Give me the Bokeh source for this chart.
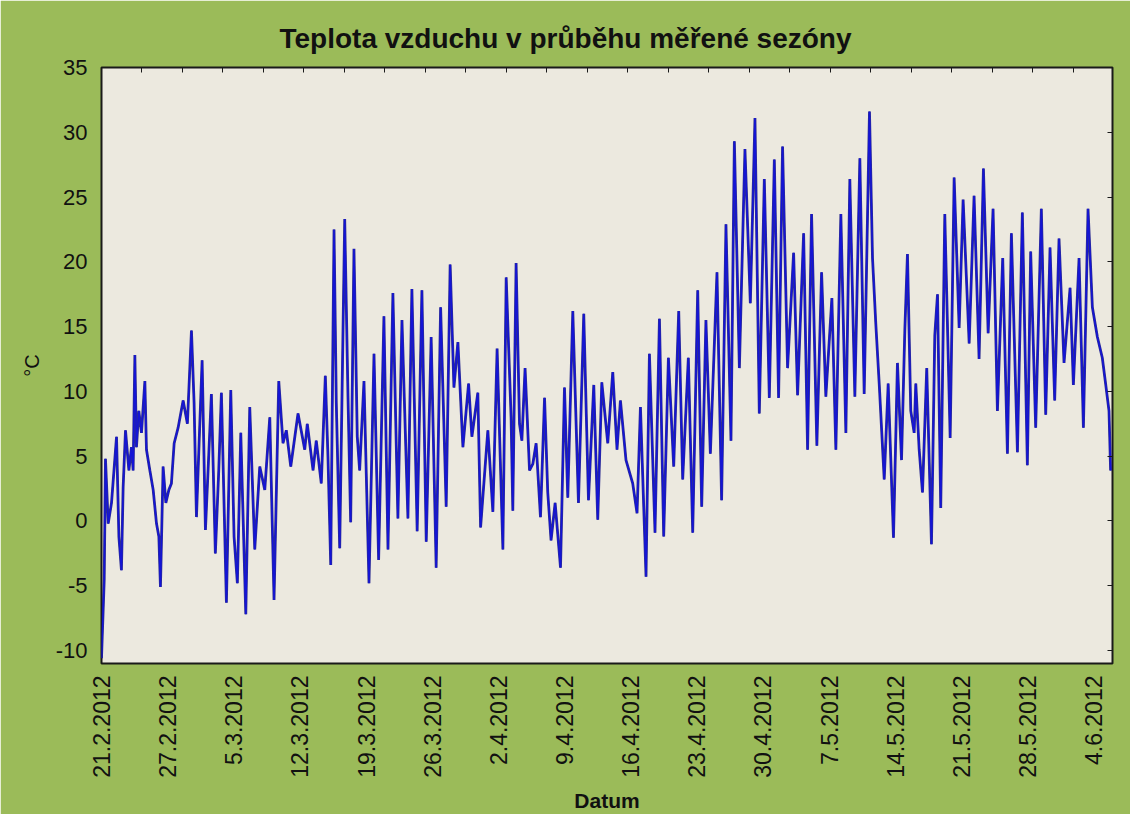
import math
from bokeh.plotting import figure
from bokeh.models import Range1d, FixedTicker, LinearAxis, ColumnDataSource
from bokeh.embed import file_html
from bokeh.resources import INLINE

# Data: day index since 21.2.2012 and air temperature (°C)
day = [0.0, 0.29, 0.42, 0.71, 1.06, 1.59, 1.84, 2.11, 2.29, 2.54, 2.90, 3.17, 3.35, 3.53, 3.70, 3.95,
       4.23, 4.59, 4.76, 5.12, 5.47, 5.82, 6.07, 6.24, 6.52, 6.81, 7.13, 7.40, 7.69, 8.11, 8.64, 9.09,
       9.52, 9.80, 10.05, 10.33, 10.65, 11.00, 11.28, 11.63, 12.05, 12.41, 12.69, 13.22, 13.68, 14.03,
       14.38, 14.74, 15.27, 15.69, 16.22, 16.75, 17.28, 17.81, 18.26, 18.76, 19.21, 19.56, 20.03, 20.80,
       21.51, 21.78, 22.39, 22.73, 23.26, 23.69, 23.97, 24.26, 24.61, 24.85, 25.21, 25.74, 26.09, 26.37,
       26.72, 27.07, 27.32, 27.78, 28.31, 28.84, 29.33, 29.89, 30.32, 30.84, 31.37, 31.80, 32.43, 32.85,
       33.41, 33.91, 34.37, 34.89, 35.42, 35.89, 36.48, 36.90, 37.30, 37.72, 38.25, 38.85, 39.20, 39.83,
       40.12, 40.89, 41.42, 41.87, 42.48, 42.83, 43.35, 43.53, 43.88, 44.24, 44.49, 44.83, 45.30, 45.65,
       46.00, 46.46, 46.89, 47.23, 47.58, 48.01, 48.58, 49.00, 49.35, 49.88, 50.48, 51.04, 51.54, 52.10,
       52.52, 52.95, 53.58, 54.11, 54.56, 54.92, 55.51, 56.22, 56.68, 57.04, 57.63, 57.99, 58.58, 59.05,
       59.50, 60.00, 60.56, 61.09, 61.51, 62.11, 62.57, 63.10, 63.52, 63.97, 64.44, 65.14, 65.63, 66.09,
       66.62, 66.98, 67.51, 68.10, 68.67, 69.16, 69.62, 70.15, 70.68, 71.21, 71.66, 72.08, 72.61, 73.25,
       73.67, 74.31, 74.73, 75.15, 75.71, 76.21, 76.66, 77.30, 77.72, 78.25, 78.78, 79.20, 79.73, 80.26,
       80.72, 81.28, 81.60, 81.95, 82.31, 82.84, 83.26, 83.82, 84.24, 84.67, 85.02, 85.30, 85.65, 86.01,
       86.18, 86.54, 86.89, 87.34, 87.84, 88.19, 88.48, 88.82, 89.25, 89.82, 90.24, 90.77, 91.19, 91.83,
       92.35, 92.88, 93.34, 93.84, 94.36, 94.82, 95.38, 95.88, 96.30, 96.94, 97.46, 97.99, 98.34, 98.87,
       99.47, 99.93, 100.39, 100.88, 101.34, 101.87, 102.51, 102.86, 103.46, 103.92, 104.41, 104.87,
       105.40, 105.92, 106.27, 106.63, 106.80]
temp = [-10.6, -4.5, 4.8, -0.2, 1.4, 6.5, -1.2, -3.8, 2.6, 7.0, 3.9, 5.7, 3.9, 12.8, 5.7, 8.5,
        6.8, 10.8, 5.5, 3.9, 2.4, -0.2, -1.2, -5.1, 4.2, 1.4, 2.4, 2.9, 6.0, 7.2, 9.3, 7.5,
        14.7, 9.1, 0.3, 6.0, 12.4, -0.7, 3.9, 9.8, -2.5, 3.9, 9.9, -6.3, 10.1, -1.2,
        -4.8, 6.8, -7.2, 8.8, -2.2, 4.2, 2.4, 8.0, -6.1, 10.8, 6.0, 7.0, 4.2, 8.3,
        5.5, 7.5, 3.9, 6.2, 2.9, 11.2, 4.9, -3.4, 22.5, 9.1, -2.1, 23.3, 9.5, -0.1,
        21.0, 6.5, 3.9, 10.8, -4.8, 12.9, -3.0, 15.8, -2.2, 17.6, 0.2, 15.5, 0.2, 17.9,
        -0.8, 17.8, -1.6, 14.2, -3.6, 16.5, 1.1, 19.8, 10.3, 13.8, 5.7, 10.6, 6.5, 9.9,
        -0.5, 7.0, 0.7, 13.3, -2.2, 18.8, 8.0, 0.8, 19.9, 7.5, 6.2, 11.8, 3.9, 4.4,
        6.0, 0.3, 9.5, 2.2, -1.5, 1.4, -3.6, 10.3, 1.8, 16.2, 1.4, 16.0, 1.6, 10.5,
        0.1, 10.7, 6.0, 11.5, 5.5, 9.3, 4.7, 2.9, 0.6, 8.8, -4.3, 12.9, -0.9, 15.6,
        -1.2, 12.6, 4.2, 16.2, 3.2, 12.6, -0.9, 17.8, 1.1, 15.5, 5.2, 19.2, 1.6, 22.9,
        6.2, 29.3, 11.8, 28.7, 16.8, 31.1, 8.3, 26.4, 9.5, 27.9, 9.5, 28.9, 11.8, 20.7,
        9.7, 22.2, 5.5, 23.7, 5.8, 19.2, 9.6, 17.2, 5.5, 23.7, 6.8, 26.4, 9.6, 28.0,
        9.8, 31.6, 20.3, 15.2, 10.6, 3.2, 10.6, -1.3, 12.2, 4.7, 14.7, 20.6, 8.5, 6.8,
        10.6, 5.5, 2.2, 11.8, -1.8, 14.3, 17.5, 1.0, 23.7, 6.4, 26.5, 14.9, 24.8, 13.7,
        25.1, 12.5, 27.2, 14.5, 24.1, 8.5, 20.3, 5.2, 22.2, 5.3, 23.8, 4.3, 20.8, 7.2,
        24.1, 8.2, 21.1, 9.3, 21.8, 12.2, 18.0, 10.5, 20.3, 7.2, 24.1, 16.5,
        14.2, 12.6, 10.6, 8.5, 3.9]

tick_days = [0, 7, 14, 21, 28, 35, 42, 49, 56, 63, 70, 77, 84, 91, 98, 105]
tick_labels = ["21.2.2012", "27.2.2012", "5.3.2012", "12.3.2012", "19.3.2012", "26.3.2012",
               "2.4.2012", "9.4.2012", "16.4.2012", "23.4.2012", "30.4.2012", "7.5.2012",
               "14.5.2012", "21.5.2012", "28.5.2012", "4.6.2012"]
y_ticks = [-10, -5, 0, 5, 10, 15, 20, 25, 30, 35]
y_labels = ["-10", "-5", "0", "5", "10", "15", "20", "25", "30", "35"]

title_text = "Teplota vzduchu v průběhu měřené sezóny"
x_title = "Datum"
y_title = "°C"

FONT = "Liberation Sans"
GREEN = "#9BBB59"
TEXT = "#111111"

p = figure(width=1130, height=814, output_backend="svg", toolbar_location=None,
           x_range=Range1d(0, 107), y_range=Range1d(-11, 35),
           min_border_left=101, min_border_right=18, min_border_top=67, min_border_bottom=148)
p.background_fill_color = "#ECE9DF"
p.border_fill_color = GREEN
p.outline_line_color = "#1a1a1a"
p.outline_line_width = 2
p.grid.visible = False

p.title.text = title_text
p.title.align = "left"
p.title.offset = 178
p.title.text_font = FONT
p.title.text_font_style = "bold"
p.title.text_font_size = "28px"
p.title.text_color = TEXT
p.title.standoff = 27

# bottom axis
xa = p.below[0]
xa.ticker = FixedTicker(ticks=tick_days)
xa.major_label_overrides = {d: l for d, l in zip(tick_days, tick_labels)}
xa.major_label_orientation = math.pi / 2
xa.major_label_text_font = FONT
xa.major_label_text_font_size = "23px"
xa.major_label_text_color = TEXT
xa.major_label_standoff = 12
xa.major_tick_in = 0
xa.major_tick_out = 0
xa.minor_tick_in = 0
xa.minor_tick_out = 0
xa.axis_line_color = None
xa.axis_label = x_title
xa.axis_label_text_font = FONT
xa.axis_label_text_font_style = "bold"
xa.axis_label_text_font_size = "21px"
xa.axis_label_text_color = TEXT
xa.axis_label_standoff = 8

# left axis
ya = p.left[0]
ya.ticker = FixedTicker(ticks=y_ticks)
ya.major_label_overrides = {t: l for t, l in zip(y_ticks, y_labels)}
ya.major_label_text_font = FONT
ya.major_label_text_font_size = "22px"
ya.major_label_text_color = TEXT
ya.major_label_standoff = 14
ya.major_tick_in = 0
ya.major_tick_out = 0
ya.minor_tick_in = 0
ya.minor_tick_out = 0
ya.axis_line_color = None
ya.axis_label = y_title
ya.axis_label_text_font = FONT
ya.axis_label_text_font_style = "normal"
ya.axis_label_text_font_size = "20px"
ya.axis_label_text_color = TEXT
ya.axis_label_standoff = 10

# top axis: inward ticks only (no labels)
top_step = 4.286
top_ticks = [top_step * k for k in range(1, 25)]
ta = LinearAxis(ticker=FixedTicker(ticks=top_ticks), major_label_text_font_size="1px",
                major_label_text_color=None,
                major_tick_in=5, major_tick_out=0, minor_tick_in=0, minor_tick_out=0,
                axis_line_color=None, major_tick_line_color="#1a1a1a", major_label_standoff=0)
p.add_layout(ta, "above")

# right axis: inward ticks only (no labels)
ra = LinearAxis(ticker=FixedTicker(ticks=y_ticks), major_label_text_font_size="1px",
                major_label_text_color=None,
                major_tick_in=5, major_tick_out=0, minor_tick_in=0, minor_tick_out=0,
                axis_line_color=None, major_tick_line_color="#1a1a1a", major_label_standoff=0)
p.add_layout(ra, "right")

src = ColumnDataSource(dict(day=day, temp=temp))
p.line(x="day", y="temp", source=src, line_color="#1a1a8a", line_width=2.8, line_alpha=0.9)
p.line(x="day", y="temp", source=src, line_color="#1414D6", line_width=1.5)

open("out.html", "w").write(file_html(p, INLINE))
